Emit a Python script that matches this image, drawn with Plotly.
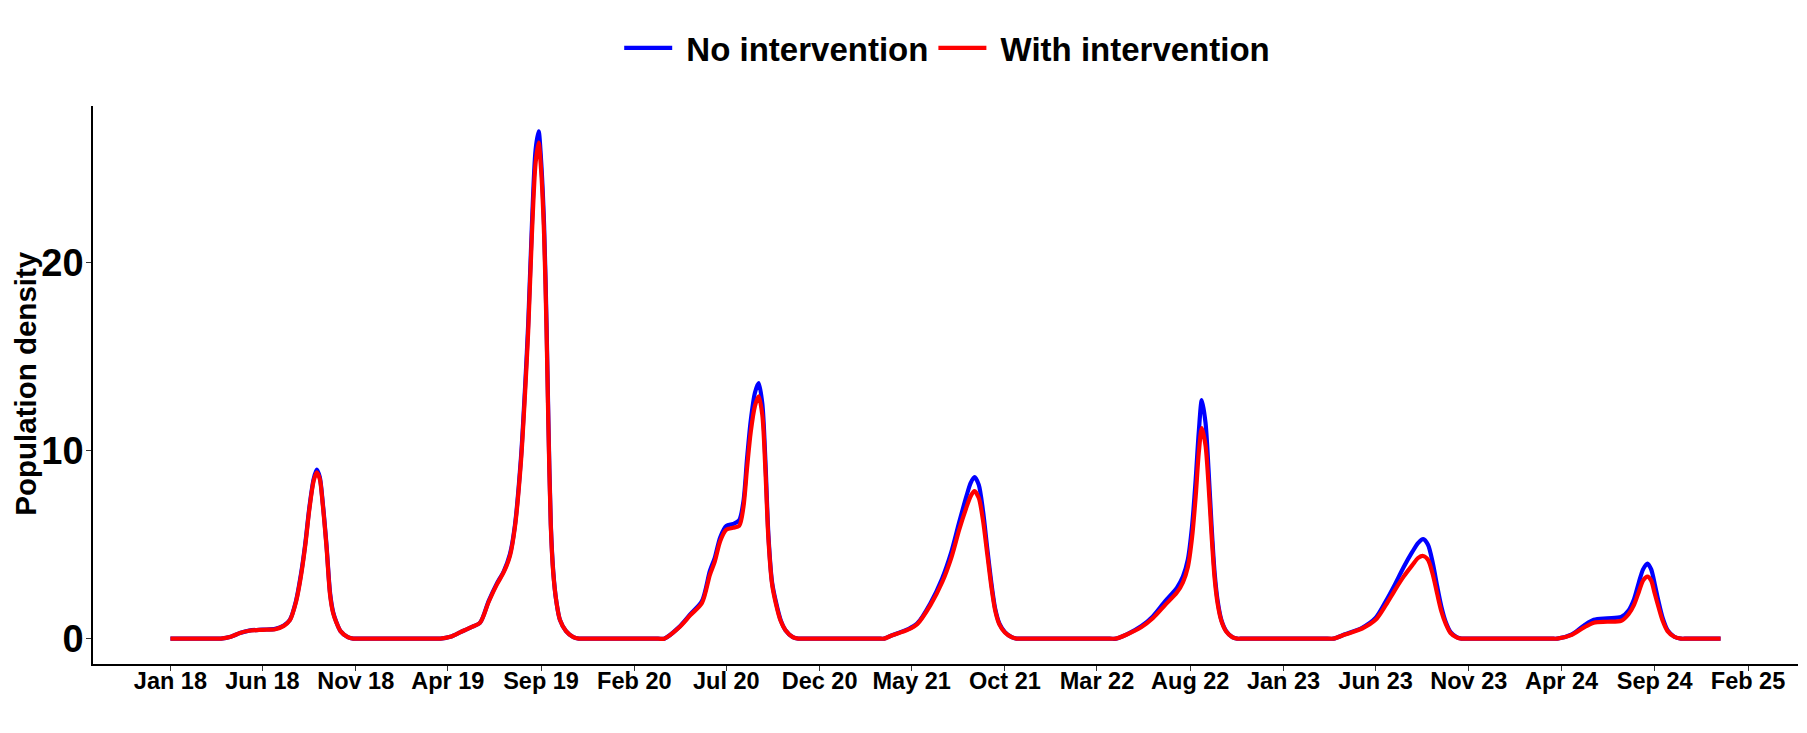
import plotly.graph_objects as go

# ---- data ----
dates = [
    # 2018 season
    "2018-01-01", "2018-03-15", "2018-03-25", "2018-04-10", "2018-04-25", "2018-05-10", "2018-06-01",
    "2018-06-22", "2018-07-06", "2018-07-16", "2018-07-26", "2018-08-03", "2018-08-10", "2018-08-17",
    "2018-08-24", "2018-08-29", "2018-09-03", "2018-09-08", "2018-09-14", "2018-09-20", "2018-09-25",
    "2018-09-30", "2018-10-07", "2018-10-19", "2018-10-28", "2018-11-06",
    # 2019 season
    "2019-03-10", "2019-03-20", "2019-04-05", "2019-04-22", "2019-05-09", "2019-05-24", "2019-06-07",
    "2019-06-20", "2019-07-02", "2019-07-12", "2019-07-20", "2019-07-30", "2019-08-06", "2019-08-11",
    "2019-08-17", "2019-08-23", "2019-08-28", "2019-09-01", "2019-09-06", "2019-09-10", "2019-09-13",
    "2019-09-17", "2019-09-21", "2019-09-26", "2019-10-02", "2019-10-12", "2019-10-24", "2019-11-02",
    "2019-11-10",
    # 2020 season
    "2020-03-11", "2020-03-21", "2020-04-14", "2020-05-03", "2020-05-22", "2020-06-04", "2020-06-12",
    "2020-06-21", "2020-07-01", "2020-07-12", "2020-07-22", "2020-07-29", "2020-08-04", "2020-08-10",
    "2020-08-17", "2020-08-23", "2020-08-29", "2020-09-03", "2020-09-08", "2020-09-14", "2020-09-20",
    "2020-09-28", "2020-10-06", "2020-10-18", "2020-10-27", "2020-11-05",
    # 2021 season
    "2021-03-07", "2021-03-17", "2021-03-28", "2021-04-25", "2021-05-10", "2021-06-01", "2021-06-20",
    "2021-07-05", "2021-07-18", "2021-07-30", "2021-08-06", "2021-08-12", "2021-08-19", "2021-08-26",
    "2021-09-02", "2021-09-09", "2021-09-15", "2021-09-22", "2021-10-01", "2021-10-12", "2021-10-20",
    "2021-10-29",
    # 2022 season
    "2022-03-22", "2022-04-01", "2022-04-19", "2022-05-13", "2022-06-01", "2022-06-21", "2022-07-10",
    "2022-07-20", "2022-07-28", "2022-08-04", "2022-08-10", "2022-08-15", "2022-08-20", "2022-08-26",
    "2022-08-31", "2022-09-05", "2022-09-10", "2022-09-15", "2022-09-21", "2022-09-29", "2022-10-09",
    "2022-10-17", "2022-10-26",
    # 2023 season
    "2023-03-14", "2023-03-24", "2023-04-12", "2023-05-10", "2023-06-01", "2023-06-18", "2023-07-03",
    "2023-07-17", "2023-07-31", "2023-08-10", "2023-08-18", "2023-08-26", "2023-09-03", "2023-09-10",
    "2023-09-17", "2023-09-24", "2023-10-02", "2023-10-12", "2023-10-20", "2023-10-29",
    # 2024 season
    "2024-03-15", "2024-03-25", "2024-04-18", "2024-05-08", "2024-05-24", "2024-06-15", "2024-07-08",
    "2024-07-20", "2024-07-29", "2024-08-06", "2024-08-13", "2024-08-20", "2024-08-26", "2024-09-01",
    "2024-09-07", "2024-09-14", "2024-09-22", "2024-10-03", "2024-10-14", "2024-10-24", "2024-12-18",
]

no_intervention = [
    # 2018
    0, 0, 0, 0.1, 0.3, 0.43, 0.48,
    0.52, 0.7, 1.0, 2.0, 3.4, 5.0, 7.0,
    8.5, 9.0, 8.6, 7.2, 5.0, 2.4, 1.4,
    0.9, 0.4, 0.08, 0, 0,
    # 2019
    0, 0, 0.1, 0.35, 0.6, 0.85, 2.0,
    2.9, 3.6, 4.5, 6.0, 9.6, 13.5, 16.8,
    22.0, 26.0, 27.0, 25.5, 22.0, 16.8, 11.7,
    6.1, 3.6, 2.0, 1.0, 0.4, 0.08, 0,
    0,
    # 2020
    0, 0, 0.6, 1.3, 2.0, 3.6, 4.3,
    5.4, 6.0, 6.1, 6.3, 7.3, 9.6, 11.6,
    13.1, 13.6, 12.5, 9.5, 5.5, 3.0, 2.0,
    1.0, 0.45, 0.08, 0, 0,
    # 2021
    0, 0, 0.15, 0.5, 0.8, 1.9, 3.2,
    4.6, 6.2, 7.6, 8.3, 8.6, 8.2, 6.8,
    4.8, 2.9, 1.6, 0.8, 0.35, 0.08, 0,
    0,
    # 2022
    0, 0, 0.23, 0.67, 1.2, 2.0, 2.7,
    3.3, 4.2, 6.0, 8.5, 11.0, 12.7, 11.5,
    9.0, 6.0, 3.5, 2.0, 1.0, 0.4, 0.08,
    0, 0,
    # 2023
    0, 0, 0.23, 0.58, 1.1, 2.0, 2.9,
    3.8, 4.6, 5.1, 5.3, 5.0, 4.0, 2.8,
    1.7, 0.9, 0.35, 0.08, 0, 0,
    # 2024
    0, 0, 0.23, 0.7, 1.0, 1.08, 1.15,
    1.5, 2.1, 3.0, 3.7, 4.0, 3.7, 2.9,
    2.0, 1.1, 0.45, 0.1, 0, 0, 0,
]

with_intervention = [
    # 2018
    0, 0, 0, 0.1, 0.3, 0.42, 0.47,
    0.5, 0.68, 0.98, 1.95, 3.3, 4.9, 6.9,
    8.4, 8.85, 8.5, 7.1, 4.9, 2.3, 1.35,
    0.88, 0.4, 0.08, 0, 0,
    # 2019
    0, 0, 0.1, 0.35, 0.6, 0.85, 1.95,
    2.85, 3.55, 4.4, 5.9, 9.4, 13.2, 16.4,
    21.5, 25.3, 26.4, 25.0, 21.5, 16.4, 11.4,
    6.0, 3.5, 2.0, 1.0, 0.4, 0.08, 0,
    0,
    # 2020
    0, 0, 0.58, 1.25, 1.9, 3.4, 4.1,
    5.2, 5.8, 5.9, 6.0, 7.0, 9.1, 11.0,
    12.4, 12.9, 11.9, 9.0, 5.3, 2.9, 1.9,
    0.95, 0.45, 0.08, 0, 0,
    # 2021
    0, 0, 0.15, 0.48, 0.77, 1.8, 3.0,
    4.3, 5.8, 7.0, 7.6, 7.85, 7.5, 6.3,
    4.5, 2.7, 1.5, 0.75, 0.33, 0.08, 0,
    0,
    # 2022
    0, 0, 0.22, 0.62, 1.1, 1.8, 2.45,
    3.0, 3.8, 5.4, 7.6, 9.9, 11.2, 10.3,
    8.2, 5.5, 3.2, 1.85, 0.95, 0.38, 0.08,
    0, 0,
    # 2023
    0, 0, 0.22, 0.54, 1.0, 1.8, 2.6,
    3.3, 3.9, 4.3, 4.4, 4.2, 3.4, 2.4,
    1.45, 0.8, 0.3, 0.07, 0, 0,
    # 2024
    0, 0, 0.2, 0.6, 0.85, 0.9, 0.95,
    1.3, 1.8, 2.5, 3.1, 3.3, 3.1, 2.4,
    1.7, 0.95, 0.4, 0.1, 0, 0, 0,
]

series_names = ["No intervention", "With intervention"]

tick_dates = [
    "2018-01-01", "2018-06-01", "2018-11-01", "2019-04-01", "2019-09-01", "2020-02-01",
    "2020-07-01", "2020-12-01", "2021-05-01", "2021-10-01", "2022-03-01", "2022-08-01",
    "2023-01-01", "2023-06-01", "2023-11-01", "2024-04-01", "2024-09-01", "2025-02-01",
]
tick_labels = [
    "Jan 18", "Jun 18", "Nov 18", "Apr 19", "Sep 19", "Feb 20",
    "Jul 20", "Dec 20", "May 21", "Oct 21", "Mar 22", "Aug 22",
    "Jan 23", "Jun 23", "Nov 23", "Apr 24", "Sep 24", "Feb 25",
]
y_ticks = [0, 10, 20]
y_title = "Population density"

FONT = "Liberation Sans, Arial, sans-serif"
NBSP = "\u00a0"

fig = go.Figure()
fig.add_trace(go.Scatter(
    x=dates, y=no_intervention, mode="lines", name=NBSP + series_names[0],
    line=dict(color="#0000FF", width=4.2, shape="spline", smoothing=0.8),
))
fig.add_trace(go.Scatter(
    x=dates, y=with_intervention, mode="lines", name=NBSP + series_names[1],
    line=dict(color="#FF0000", width=4.2, shape="spline", smoothing=0.8),
))

fig.update_layout(
    width=1791, height=717,
    margin=dict(l=85, r=1, t=98, b=61),
    plot_bgcolor="white", paper_bgcolor="white",
    font=dict(family=FONT, color="black"),
    showlegend=True,
    legend=dict(
        orientation="h", x=0.501, xanchor="center", y=1.104, yanchor="middle",
        font=dict(family=FONT, size=33, color="black", weight="bold"),
        bgcolor="rgba(0,0,0,0)", itemwidth=48, tracegroupgap=0,
    ),
    annotations=[dict(
        text=y_title, textangle=-90, xref="paper", yref="paper",
        x=-0.0497, y=0.502, xanchor="left", yanchor="middle", showarrow=False,
        borderpad=0,
        font=dict(family=FONT, size=29.5, color="black", weight="bold"),
    )],
)
fig.update_xaxes(
    type="date", range=["2017-08-27", "2025-04-24"],
    tickmode="array", tickvals=tick_dates, ticktext=tick_labels,
    ticks="outside", ticklen=5, tickwidth=1.2, tickcolor="#333333",
    ticklabelstandoff=-10,
    showline=True, linecolor="black", linewidth=1.5,
    showgrid=False, zeroline=False,
    tickfont=dict(family=FONT, size=23.5, color="black", weight="bold"),
)
fig.update_yaxes(
    range=[-1.35, 28.35],
    tickmode="array", tickvals=y_ticks, ticktext=[str(v) for v in y_ticks],
    ticks="outside", ticklen=5, tickwidth=1.2, tickcolor="#333333",
    ticklabelstandoff=-5,
    showline=True, linecolor="black", linewidth=1.5,
    showgrid=False, zeroline=False,
    tickfont=dict(family=FONT, size=38, color="black", weight="bold"),
)

fig.write_html("out.html")
